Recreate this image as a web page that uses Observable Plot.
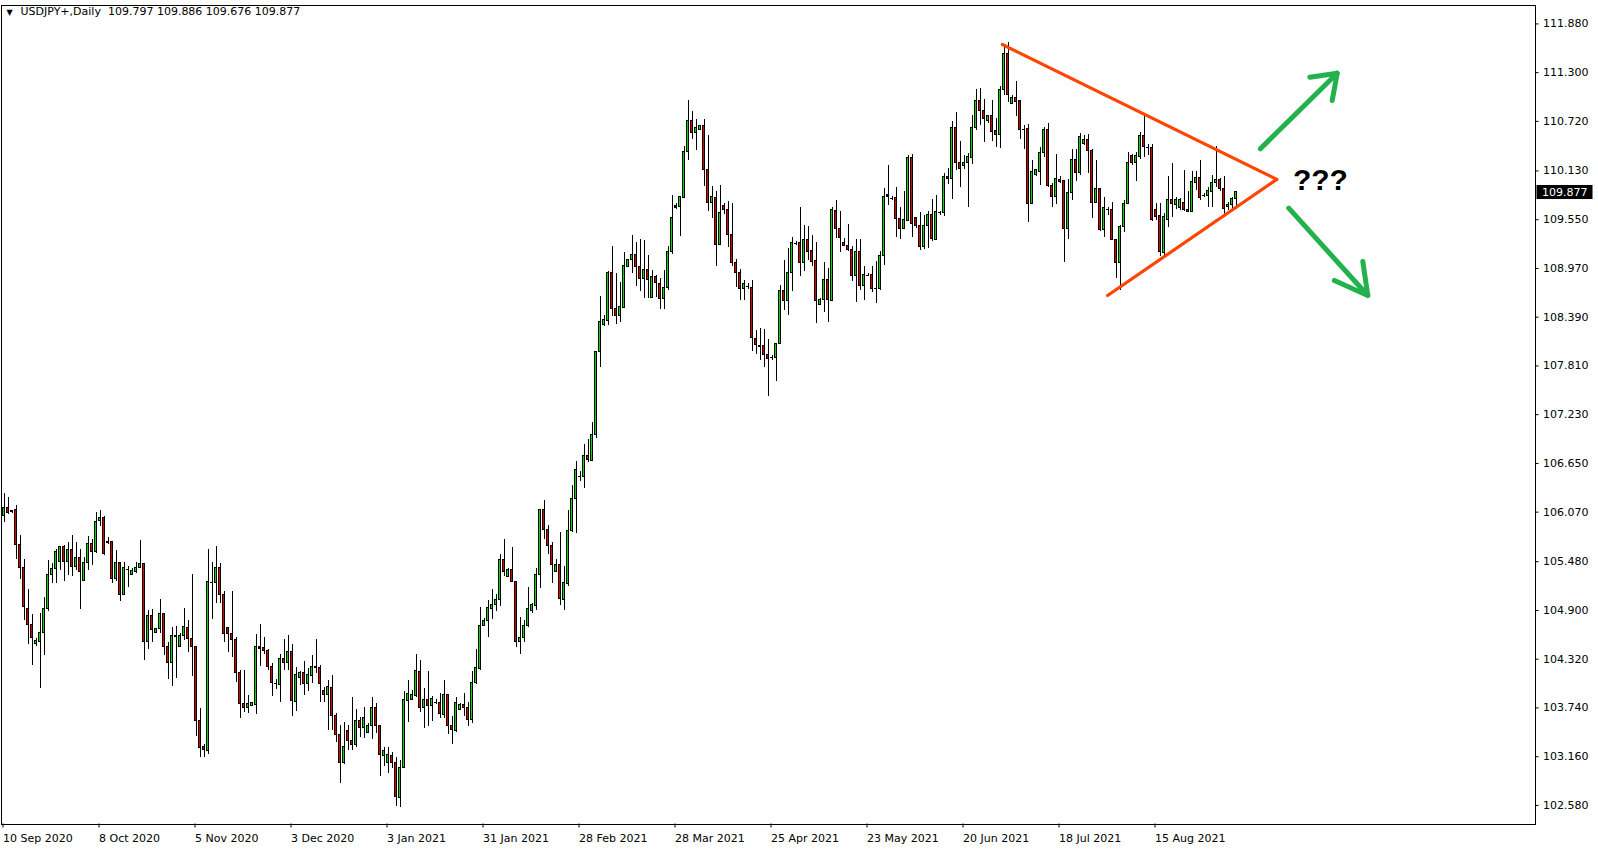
<!DOCTYPE html>
<html>
<head>
<meta charset="utf-8">
<script src="https://cdn.jsdelivr.net/npm/d3@7"></script>
<script src="https://cdn.jsdelivr.net/npm/@observablehq/plot@0.6"></script>
<style>
  html, body { margin: 0; padding: 0; background: #ffffff; }
  #chart svg { display: block; }
</style>
</head>
<body>
<div id="chart"></div>
<script>
// ---------------- DATA ----------------
const symbol = "USDJPY+";
const period = "Daily";

const opens = [
106.02,106.12,106.08,106.09,105.68,105.41,104.92,104.73,104.50,104.52,
104.63,104.92,105.32,105.39,105.48,105.66,105.48,105.62,105.42,105.53,
105.25,105.47,105.69,105.59,105.96,106.00,105.71,105.72,105.27,105.47,
105.09,105.39,105.32,105.36,105.40,105.45,104.52,104.84,104.63,104.68,
104.86,104.47,104.27,104.60,104.47,104.60,104.69,104.56,104.47,103.58,
103.27,103.23,105.23,105.23,105.40,105.09,104.69,104.62,104.55,104.15,
103.79,103.74,103.76,103.78,104.45,104.45,104.42,104.23,104.025,104.01,
104.32,104.28,104.40,103.81,104.10,104.15,104.02,104.12,104.23,104.21,
103.94,103.90,103.98,103.65,103.42,103.08,103.47,103.35,103.30,103.59,
103.50,103.44,103.53,103.74,103.52,103.17,103.08,103.17,103.09,102.67,
103.03,103.82,103.84,103.88,104.17,103.74,103.83,103.76,103.80,103.80,
103.66,103.89,103.53,103.47,103.72,103.77,103.74,103.60,104.04,104.20,
104.72,104.77,104.92,104.97,105.02,105.50,105.30,105.38,105.24,104.52,
104.57,104.71,104.89,104.95,105.32,106.09,105.86,105.67,105.36,105.44,
105.03,105.22,105.84,106.23,106.50,106.49,106.74,106.68,106.99,107.97,
108.30,108.34,108.92,108.49,108.40,108.50,108.99,109.07,109.13,108.99,
108.85,108.95,108.62,108.87,108.79,108.61,108.74,109.16,109.70,109.70,
109.81,110.35,110.72,110.58,110.62,110.67,110.14,109.75,109.81,109.25,
109.71,109.67,109.37,109.04,108.92,108.72,108.76,108.74,108.13,108.05,
108.05,107.94,107.91,107.91,108.07,108.70,108.58,108.92,109.27,109.27,
109.04,109.31,109.18,109.06,108.54,108.59,108.83,108.58,109.65,109.44,
109.27,109.24,109.19,108.88,109.17,108.76,108.89,108.89,108.735,108.73,
109.12,109.83,109.80,109.81,109.56,109.44,109.54,110.29,109.57,109.47,
109.22,109.47,109.61,109.31,109.63,109.63,110.06,110.03,110.64,110.22,
110.19,110.22,110.29,110.64,110.96,110.84,110.72,110.78,110.60,110.56,
111.09,111.52,110.93,111.00,110.96,110.62,110.63,109.74,110.08,110.12,
110.34,110.62,109.95,109.82,110.02,110.01,109.44,109.87,110.26,110.11,
110.45,110.50,110.37,109.75,109.92,109.43,109.67,109.67,109.31,109.03,
109.46,109.74,110.31,110.23,110.30,110.55,110.41,110.40,109.66,109.60,
109.15,109.55,109.78,109.73,109.69,109.75,109.67,109.64,109.99,110.05,
109.84,109.83,109.88,109.99,110.02,109.92,109.70,109.73,109.797
];

const highs = [
106.29,106.24,106.09,106.15,105.79,105.51,105.15,104.85,104.57,104.86,
105.06,105.50,105.46,105.63,105.66,105.67,105.71,105.79,105.71,105.63,
105.53,105.78,105.75,106.06,106.09,106.02,105.77,105.72,105.61,105.47,
105.47,105.42,105.40,105.47,105.73,105.45,104.90,104.91,104.69,105.03,
104.86,104.52,104.70,104.71,104.62,104.92,104.78,105.33,104.47,103.73,
103.31,105.62,105.47,105.66,105.46,105.13,104.70,105.12,104.58,104.19,
104.19,103.89,103.81,104.61,104.73,104.58,104.44,104.27,104.08,104.38,
104.55,104.60,104.50,104.22,104.17,104.29,104.21,104.37,104.55,104.25,
103.98,104.07,104.13,103.67,103.53,103.57,103.53,103.87,103.72,103.63,
103.75,103.56,103.87,103.79,103.53,103.27,103.27,103.21,103.15,103.12,
103.94,104.07,103.95,104.38,104.31,103.97,104.17,103.88,103.84,103.91,
104.07,103.89,103.64,103.87,103.79,103.91,103.81,104.17,104.44,104.93,
104.80,105.02,105.15,105.09,105.57,105.74,105.40,105.65,105.25,104.82,
104.78,105.17,104.98,105.40,106.10,106.21,105.91,105.71,105.51,105.83,
105.42,106.09,106.39,106.67,106.55,106.87,106.93,107.14,107.98,108.64,
108.41,108.93,109.23,108.91,108.80,109.16,109.08,109.36,109.28,109.31,
109.30,109.12,108.95,108.89,108.85,108.95,109.23,109.84,109.74,109.83,
110.42,110.97,110.84,110.74,110.67,110.74,110.55,109.94,109.88,109.96,
109.74,109.77,109.74,109.08,108.96,108.83,108.79,108.83,108.23,108.26,
108.24,108.13,107.94,108.08,108.77,109.06,109.21,109.34,109.29,109.69,
109.48,109.47,109.36,109.28,108.61,109.04,108.97,109.70,109.78,109.65,
109.33,109.49,109.23,109.32,109.32,108.99,108.91,108.99,109.05,109.17,
109.92,110.19,109.83,109.93,109.69,109.88,110.31,110.33,109.58,109.64,
109.60,109.65,109.79,109.84,109.65,110.10,110.16,110.72,110.82,110.48,
110.31,110.34,110.79,111.10,111.11,110.98,110.79,110.97,110.76,111.13,
111.64,111.66,111.03,111.19,110.96,110.67,110.68,110.25,110.15,110.41,
110.65,110.69,109.98,110.33,110.07,110.02,110.03,110.38,110.38,110.58,
110.55,110.56,110.38,110.25,109.92,109.82,109.69,109.76,109.32,109.48,
109.78,110.35,110.33,110.35,110.59,110.81,110.45,110.45,109.74,109.74,
109.62,110.06,110.22,109.82,109.80,110.14,109.88,110.12,110.12,110.26,
109.86,109.93,110.08,110.42,110.04,110.06,109.76,109.82,109.886
];

const lows = [
105.95,106.04,106.05,105.51,105.27,104.78,104.50,104.24,104.47,103.97,
104.37,104.89,105.22,105.22,105.38,105.24,105.32,105.31,105.38,104.91,
105.24,105.38,105.44,105.58,105.90,105.55,105.69,105.22,105.25,105.01,
105.08,105.17,105.32,105.34,105.40,104.31,104.44,104.52,104.62,104.63,
104.36,104.08,103.99,104.09,104.46,104.54,104.40,104.12,103.40,103.15,
103.15,103.19,104.79,104.98,104.98,104.52,104.40,104.34,104.04,103.62,
103.69,103.67,103.76,103.66,104.23,104.38,104.19,103.88,103.96,103.80,
104.19,104.19,103.64,103.70,104.01,103.89,103.93,104.03,104.15,103.80,
103.80,103.47,103.47,103.33,102.84,103.07,103.23,103.23,103.27,103.39,
103.38,103.43,103.37,103.43,102.93,103.04,102.96,103.02,102.57,102.56,
103.02,103.57,103.83,103.86,103.69,103.49,103.52,103.58,103.78,103.61,
103.62,103.42,103.30,103.45,103.71,103.64,103.52,103.55,104.02,104.19,
104.71,104.58,104.79,104.89,104.95,105.31,105.29,105.23,104.46,104.38,
104.52,104.70,104.86,104.90,105.16,105.75,105.57,105.22,105.35,104.96,
104.90,105.18,105.83,105.82,106.43,106.35,106.66,106.67,106.95,107.79,
108.28,108.29,108.40,108.30,108.33,108.49,108.99,108.91,108.75,108.69,
108.61,108.61,108.61,108.62,108.48,108.48,108.71,109.14,109.67,109.35,
109.80,110.25,110.51,110.37,110.61,109.95,109.65,109.57,108.99,109.24,
109.61,109.22,108.99,108.74,108.59,108.59,108.72,107.98,107.95,107.87,
107.79,107.45,107.88,107.62,108.07,108.47,108.41,108.70,109.24,108.88,
108.93,109.06,108.99,108.32,108.53,108.45,108.33,108.58,109.33,109.16,
109.23,109.17,108.82,108.56,108.71,108.59,108.87,108.68,108.55,108.71,
109.01,109.72,109.78,109.34,109.31,109.43,109.53,109.34,109.44,109.18,
109.19,109.21,109.29,109.30,109.60,109.59,109.97,109.79,110.14,109.93,
110.15,109.70,110.21,110.61,110.67,110.47,110.70,110.48,110.41,110.40,
111.03,110.94,110.92,110.78,110.50,110.39,109.52,109.74,110.07,109.96,
110.29,109.93,109.70,109.73,109.98,109.04,109.31,109.78,110.00,110.08,
110.43,110.10,109.57,109.74,109.41,109.34,109.60,109.30,108.85,108.71,
109.40,109.73,110.20,110.01,110.27,110.29,110.32,109.53,109.54,109.11,
109.11,109.46,109.58,109.67,109.66,109.65,109.63,109.63,109.90,109.78,
109.82,109.69,109.69,109.93,109.88,109.58,109.66,109.66,109.676
];

const closes = [
106.12,106.06,106.07,105.68,105.41,104.94,104.73,104.57,104.54,104.63,
104.92,105.32,105.39,105.59,105.65,105.48,105.62,105.42,105.52,105.36,
105.47,105.69,105.60,105.95,106.00,105.57,105.70,105.28,105.47,105.09,
105.40,105.39,105.37,105.41,105.45,104.52,104.84,104.67,104.68,104.86,
104.47,104.27,104.60,104.59,104.60,104.70,104.56,104.47,103.58,103.26,
103.24,105.24,105.23,105.40,105.08,104.62,104.62,104.55,104.15,103.79,
103.74,103.79,103.80,104.47,104.46,104.42,104.23,104.04,104.03,104.32,
104.28,104.40,103.82,104.13,104.15,104.02,104.13,104.23,104.21,104.02,
103.90,103.99,103.65,103.42,103.08,103.27,103.35,103.30,103.59,103.50,
103.62,103.53,103.74,103.52,103.18,103.23,103.18,103.08,102.68,103.03,
103.83,103.91,103.89,104.18,103.74,103.84,103.76,103.85,103.80,103.67,
103.89,103.52,103.48,103.80,103.78,103.74,103.60,104.04,104.21,104.72,
104.77,104.93,104.97,105.02,105.50,105.36,105.38,105.24,104.52,104.57,
104.71,104.92,104.96,105.32,106.09,105.86,105.67,105.44,105.44,105.04,
105.23,105.85,106.23,106.57,106.50,106.74,106.69,106.99,107.97,108.33,
108.36,108.92,108.49,108.40,108.51,109.00,109.07,109.13,108.99,108.85,
108.95,108.83,108.87,108.80,108.61,108.74,109.16,109.57,109.71,109.82,
110.35,110.72,110.58,110.64,110.67,110.14,109.75,109.82,109.25,109.63,
109.67,109.37,109.04,108.92,108.72,108.79,108.76,108.14,108.06,108.04,
107.94,107.89,107.91,108.07,108.70,108.58,108.92,109.27,109.27,109.04,
109.31,109.17,109.05,108.58,108.60,108.83,108.59,109.66,109.44,109.33,
109.24,109.19,108.88,109.17,108.76,108.89,108.89,108.73,108.735,109.12,
109.82,109.84,109.80,109.56,109.44,109.55,110.29,109.50,109.47,109.23,
109.47,109.61,109.32,109.64,109.63,110.06,110.03,110.64,110.22,110.15,
110.22,110.30,110.64,110.96,110.84,110.75,110.78,110.59,110.56,111.09,
111.52,111.03,111.00,110.95,110.62,110.62,109.74,110.12,110.14,110.34,
110.62,109.95,109.82,110.04,110.00,109.44,109.87,110.26,110.11,110.53,
110.50,110.37,109.75,109.92,109.43,109.69,109.67,109.31,109.03,109.46,
109.74,110.22,110.22,110.31,110.55,110.41,110.41,109.55,109.58,109.17,
109.58,109.78,109.74,109.78,109.78,109.66,109.64,110.00,110.05,109.81,
109.84,109.89,109.99,110.02,109.91,109.68,109.73,109.80,109.877
];

// bottom axis: a date label every 24 bars
const dateLabels = ["10 Sep 2020","8 Oct 2020","5 Nov 2020","3 Dec 2020","3 Jan 2021",
  "31 Jan 2021","28 Feb 2021","28 Mar 2021","25 Apr 2021","23 May 2021",
  "20 Jun 2021","18 Jul 2021","15 Aug 2021"];
const dateLabelBars = [0,24,48,72,96,120,144,168,192,216,240,264,288];

// right axis tick labels
const priceTicks = [111.880,111.300,110.720,110.130,109.550,108.970,108.390,107.810,
  107.230,106.650,106.070,105.480,104.900,104.320,103.740,103.160,102.580];

// triangle drawn on the chart (bar index, price)
const upperTrend = [{bar:249.6, price:111.635},{bar:318.2, price:110.03}];
const lowerTrend = [{bar:275.9, price:108.648},{bar:318.2, price:110.03}];

// hand-drawn green arrows (bar index, price)
const arrowUpShaft = [{bar:314.1, price:110.394},{bar:333.3, price:111.293}];
const arrowUpHead  = [{bar:326.45, price:111.246},{bar:333.3, price:111.293},{bar:332.05, price:110.969}];
const arrowDnShaft = [{bar:321.2, price:109.687},{bar:340.95, price:108.648}];
const arrowDnHead  = [{bar:332.6, price:108.827},{bar:340.95, price:108.648},{bar:339.7, price:109.053}];
const questionMark = [{bar:329.1, price:110.012, text:"???"}];

// ---------------- CHART ----------------
const candles = opens.map((o, i) => ({i, open:o, high:highs[i], low:lows[i], close:closes[i]}));
const last = candles[candles.length - 1];
const fmt3 = d3.format(".3f");
const header = `${symbol},${period}\u00a0\u00a0${fmt3(last.open)} ${fmt3(last.high)} ${fmt3(last.low)} ${fmt3(last.close)}`;

const W = 1598, H = 850;
const mL = 0.5, mR = 63.5, mT = 4.5, mB = 26.5;
const bull = "#00e000", bear = "#e00000";
const FONT = "DejaVu Sans";

const chart = Plot.plot({
  width: W, height: H,
  marginLeft: mL, marginRight: mR, marginTop: mT, marginBottom: mB,
  x: {type: "linear", domain: [-0.75, 382.75], axis: null},
  y: {type: "linear", domain: [102.359, 112.105], axis: null},
  style: {fontFamily: FONT, fontSize: "11px", background: "#ffffff", color: "#000000", overflow: "visible"},
  marks: [
    // wicks
    Plot.ruleX(candles, {x: "i", y1: "low", y2: "high", stroke: "#000", strokeWidth: 1, shapeRendering: "crispEdges"}),
    // bodies
    Plot.rect(candles.filter(d => d.close >= d.open), {
      x1: d => d.i - 0.25, x2: d => d.i + 0.25, y1: "open", y2: "close",
      fill: bull, stroke: "#000", strokeWidth: 1, shapeRendering: "crispEdges"}),
    Plot.rect(candles.filter(d => d.close < d.open), {
      x1: d => d.i - 0.25, x2: d => d.i + 0.25, y1: "open", y2: "close",
      fill: bear, stroke: "#000", strokeWidth: 1, shapeRendering: "crispEdges"}),
    // dojis / very small bodies: horizontal dash
    Plot.ruleY(candles.filter(d => Math.abs(d.close - d.open) < 0.015), {
      y: "open", x1: d => d.i - 0.375, x2: d => d.i + 0.375, stroke: "#000", strokeWidth: 1, shapeRendering: "crispEdges"}),
    // triangle
    Plot.line(upperTrend, {x: "bar", y: "price", stroke: "#ff4500", strokeWidth: 3.2}),
    Plot.line(lowerTrend, {x: "bar", y: "price", stroke: "#ff4500", strokeWidth: 3.2}),
    // arrows
    Plot.line(arrowUpShaft, {x: "bar", y: "price", stroke: "#22b14c", strokeWidth: 5, strokeLinecap: "round"}),
    Plot.line(arrowUpHead, {x: "bar", y: "price", stroke: "#22b14c", strokeWidth: 5, strokeLinecap: "round", strokeLinejoin: "round"}),
    Plot.line(arrowDnShaft, {x: "bar", y: "price", stroke: "#22b14c", strokeWidth: 5, strokeLinecap: "round"}),
    Plot.line(arrowDnHead, {x: "bar", y: "price", stroke: "#22b14c", strokeWidth: 5, strokeLinecap: "round", strokeLinejoin: "round"}),
    Plot.text(questionMark, {x: "bar", y: "price", text: "text", fontSize: 30, fontWeight: "bold",
      fontFamily: "Liberation Sans", fill: "#000", textAnchor: "middle", lineAnchor: "middle"}),
    // header
    Plot.text(["\u25bc"], {text: d => d, frameAnchor: "top-left", dx: 5.5, dy: 4, fontSize: 8, fill: "#000", textAnchor: "start", lineAnchor: "top"}),
    Plot.text([header], {text: d => d, frameAnchor: "top-left", dx: 19.5, dy: 2, fontSize: 11, fill: "#000", textAnchor: "start", lineAnchor: "top", fontFamily: FONT}),
    // axes
    Plot.axisY({anchor: "right", ticks: priceTicks, tickFormat: d => fmt3(d), tickSize: 3, tickPadding: 5,
      fontSize: 11, fill: "#000", stroke: "#000"}),
    Plot.axisX({anchor: "bottom", ticks: dateLabelBars, tickFormat: d => dateLabels[dateLabelBars.indexOf(d)],
      tickSize: 4, tickPadding: 6, textAnchor: "start", dx: -1, fontSize: 11, fill: "#000", stroke: "#000"}),
    Plot.frame({stroke: "#000", strokeWidth: 1, shapeRendering: "crispEdges"})
  ]
});

// current price label on the right axis
const yPos = chart.scale("y").apply(last.close);
const svg = d3.select(chart);
const xFrameRight = W - mR;
const g = svg.append("g").attr("text-anchor", "start");
g.append("rect").attr("x", xFrameRight + 2).attr("y", Math.round(yPos) - 7).attr("width", 56).attr("height", 14).attr("fill", "#000");
g.append("text").attr("x", xFrameRight + 7.5).attr("y", Math.round(yPos)).attr("dy", "0.36em")
  .attr("text-anchor", "start")
  .attr("fill", "#fff").attr("font-family", FONT).attr("font-size", 11).text(fmt3(last.close));

document.getElementById("chart").appendChild(chart);
</script>
</body>
</html>
